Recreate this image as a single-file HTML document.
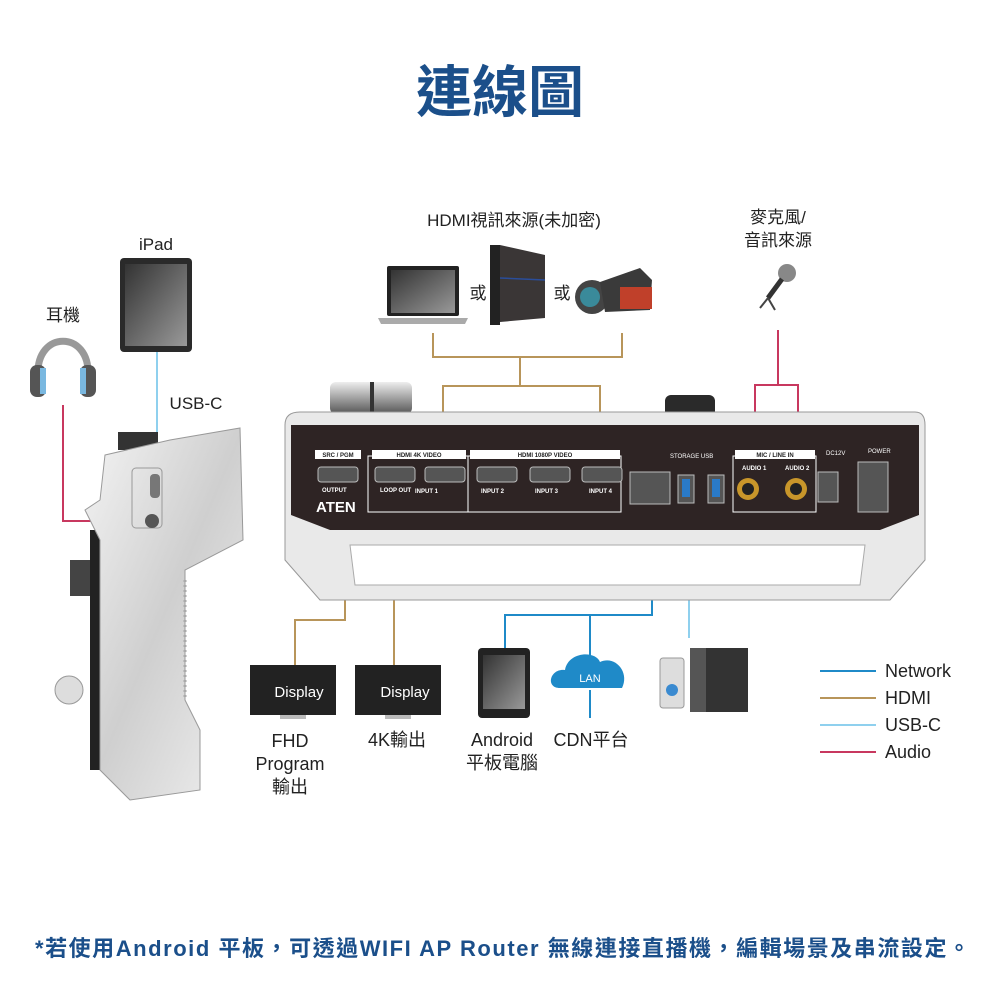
<!DOCTYPE html>
<html><head><meta charset="utf-8"><style>
html,body{margin:0;padding:0;background:#fff;}
svg{display:block;font-family:"Liberation Sans","Noto Sans CJK TC",sans-serif;}
</style></head><body>
<svg width="1000" height="1002" viewBox="0 0 1000 1002" xmlns="http://www.w3.org/2000/svg">
<defs>
<linearGradient id="scr" x1="0" y1="0" x2="1" y2="1"><stop offset="0" stop-color="#333"/><stop offset="1" stop-color="#999"/></linearGradient>
<linearGradient id="met" x1="0" y1="0" x2="1" y2="1"><stop offset="0" stop-color="#f4f4f4"/><stop offset="0.5" stop-color="#cfcfcf"/><stop offset="1" stop-color="#f0f0f0"/></linearGradient>
<linearGradient id="knob" x1="0" y1="0" x2="0" y2="1"><stop offset="0" stop-color="#eee"/><stop offset="1" stop-color="#555"/></linearGradient>
</defs>
<text x="500" y="112" text-anchor="middle" font-size="56" font-weight="bold" fill="#1b4f8a">連線圖</text>

<g font-size="17" fill="#222">
<text x="514" y="226" text-anchor="middle">HDMI視訊來源(未加密)</text>
<text x="778" y="223" text-anchor="middle">麥克風/</text>
<text x="778" y="246" text-anchor="middle">音訊來源</text>
<text x="156" y="250" text-anchor="middle">iPad</text>
<text x="63" y="321" text-anchor="middle">耳機</text>
<text x="196" y="409" text-anchor="middle">USB-C</text>
<text x="478" y="299" text-anchor="middle">或</text>
<text x="562" y="299" text-anchor="middle">或</text>
</g>

<rect x="387" y="266" width="72" height="50" rx="2" fill="#222"/>
<rect x="391" y="270" width="64" height="43" fill="url(#scr)"/>
<path d="M378 318 L468 318 L465 324 L381 324 Z" fill="#aaa"/>
<path d="M490 250 L500 245 L545 255 L545 318 L500 322 L490 325 Z" fill="#3a3636"/>
<path d="M500 278 L545 280" stroke="#2a4d9a" stroke-width="1.5"/>
<rect x="490" y="245" width="10" height="80" fill="#222"/>
<ellipse cx="592" cy="297" rx="17" ry="17" fill="#444"/>
<circle cx="590" cy="297" r="10" fill="#3a8a9a"/>
<path d="M600 282 L640 268 L652 280 L650 310 L605 312 Z" fill="#3a3a3a"/>
<rect x="620" y="287" width="32" height="22" fill="#c0402a"/>
<circle cx="787" cy="273" r="9" fill="#888"/>
<path d="M782 279 L768 298" stroke="#333" stroke-width="5"/>
<path d="M768 298 L760 308 M768 298 L775 310" stroke="#444" stroke-width="2"/>
<rect x="120" y="258" width="72" height="94" rx="4" fill="#2a2a2a"/>
<rect x="125" y="264" width="62" height="82" fill="url(#scr)"/>
<path d="M38 375 C36 330 90 330 88 375" fill="none" stroke="#999" stroke-width="7"/>
<rect x="30" y="365" width="16" height="32" rx="7" fill="#555"/>
<rect x="80" y="365" width="16" height="32" rx="7" fill="#555"/>
<rect x="40" y="368" width="6" height="26" fill="#7ab8e0"/>
<rect x="80" y="368" width="6" height="26" fill="#7ab8e0"/>

<g fill="none" stroke-width="2">
<path d="M433 333 V357 H622 V333 M520 357 V386 M443 458 V386 H600 V458" stroke="#b8955a"/>
<path d="M778 330 V385 M755 460 V385 H798 V460" stroke="#c8385f"/>
<path d="M63 405 V521 H135" stroke="#c8385f"/>
<path d="M157 352 V472" stroke="#8fd0ee"/>
<path d="M345 505 V620 H295 V665 M394 505 V665" stroke="#b8955a"/>
<path d="M652 518 V615 H505 V648 M590 615 V658 M590 690 V718" stroke="#1f8ac8"/>
<path d="M689 520 V638" stroke="#8fd0ee"/>
</g>

<rect x="330" y="382" width="82" height="32" rx="6" fill="url(#knob)"/>
<rect x="370" y="382" width="4" height="32" fill="#333"/>
<rect x="665" y="395" width="50" height="22" rx="6" fill="#2a2a2a"/>
<path d="M300 412 L915 412 Q925 412 925 425 L925 560 L890 600 L320 600 L285 560 L285 425 Q285 412 300 412 Z" fill="#e9e9e9" stroke="#999"/>
<path d="M291 425 L919 425 L919 515 L880 530 L330 530 L291 515 Z" fill="#2e2424"/>
<path d="M350 545 L865 545 L860 585 L355 585 Z" fill="#fff" stroke="#aaa"/>
<g fill="none" stroke="#fff" stroke-width="1">
<rect x="368" y="456" width="100" height="56"/>
<rect x="468" y="456" width="153" height="56"/>
<rect x="733" y="456" width="83" height="56"/>
</g>
<g font-size="6" fill="#fff" font-weight="bold">
<rect x="315" y="450" width="46" height="9" fill="#fff"/><text x="338" y="457" text-anchor="middle" fill="#222">SRC / PGM</text>
<rect x="372" y="450" width="94" height="9" fill="#fff"/><text x="419" y="457" text-anchor="middle" fill="#222">HDMI 4K VIDEO</text>
<rect x="470" y="450" width="150" height="9" fill="#fff"/><text x="545" y="457" text-anchor="middle" fill="#222">HDMI 1080P VIDEO</text>
<rect x="735" y="450" width="80" height="9" fill="#fff"/><text x="775" y="457" text-anchor="middle" fill="#222">MIC / LINE IN</text>
<text x="670" y="458" font-weight="normal">STORAGE  USB</text>
<text x="868" y="453" font-weight="normal">POWER</text>
<text x="826" y="455" font-weight="normal">DC12V</text>
<text x="415" y="493">INPUT 1</text><text x="481" y="493">INPUT 2</text><text x="535" y="493">INPUT 3</text><text x="589" y="493">INPUT 4</text>
<text x="322" y="492">OUTPUT</text><text x="380" y="492">LOOP OUT</text>
<text x="742" y="470">AUDIO 1</text><text x="785" y="470">AUDIO 2</text>
</g>
<text x="316" y="512" font-size="15" font-weight="bold" fill="#fff">ATEN</text>
<g fill="#555" stroke="#bbb">
<rect x="318" y="467" width="40" height="15" rx="3"/><rect x="375" y="467" width="40" height="15" rx="3"/><rect x="425" y="467" width="40" height="15" rx="3"/>
<rect x="477" y="467" width="40" height="15" rx="3"/><rect x="530" y="467" width="40" height="15" rx="3"/><rect x="582" y="467" width="40" height="15" rx="3"/>
<rect x="630" y="472" width="40" height="32"/><rect x="678" y="475" width="16" height="28"/><rect x="708" y="475" width="16" height="28"/>
<rect x="818" y="472" width="20" height="30"/><rect x="858" y="462" width="30" height="50"/>
</g>
<rect x="682" y="479" width="8" height="18" fill="#2a7ac8"/><rect x="712" y="479" width="8" height="18" fill="#2a7ac8"/>
<circle cx="748" cy="489" r="11" fill="#c8962a"/><circle cx="748" cy="489" r="6" fill="#222"/>
<circle cx="796" cy="489" r="11" fill="#c8962a"/><circle cx="796" cy="489" r="6" fill="#222"/>

<rect x="118" y="432" width="40" height="18" fill="#333"/>
<rect x="70" y="560" width="30" height="36" fill="#444"/>
<rect x="90" y="530" width="14" height="240" fill="#222"/>
<path d="M105 455 L170 440 L240 428 L243 540 L185 570 L185 700 L200 730 L200 790 L130 800 L100 770 L100 540 L85 510 L100 500 Z" fill="url(#met)" stroke="#999"/>
<rect x="132" y="468" width="30" height="60" rx="4" fill="none" stroke="#999"/>
<rect x="150" y="474" width="10" height="24" rx="4" fill="#777"/>
<circle cx="152" cy="521" r="7" fill="#555"/>
<path d="M185 580 V700" stroke="#aaa" stroke-width="3" stroke-dasharray="2 3"/>
<circle cx="69" cy="690" r="14" fill="#ddd" stroke="#999"/>

<rect x="250" y="665" width="86" height="50" fill="#222"/>
<text x="299" y="697" text-anchor="middle" font-size="15" fill="#fff">Display</text>
<rect x="280" y="715" width="26" height="4" fill="#bbb"/>
<rect x="355" y="665" width="86" height="50" fill="#222"/>
<text x="405" y="697" text-anchor="middle" font-size="15" fill="#fff">Display</text>
<rect x="385" y="715" width="26" height="4" fill="#bbb"/>
<rect x="478" y="648" width="52" height="70" rx="4" fill="#222"/>
<rect x="483" y="655" width="42" height="54" fill="url(#scr)"/>
<path d="M560 688 C545 688 550 668 565 670 C568 652 595 650 600 662 C615 655 630 672 622 688 Z" fill="#1f8ac8"/>
<text x="590" y="682" text-anchor="middle" font-size="11" fill="#fff">LAN</text>
<rect x="660" y="658" width="24" height="50" rx="3" fill="#ddd" stroke="#999"/>
<circle cx="672" cy="690" r="6" fill="#3a8ad0"/>
<rect x="690" y="648" width="58" height="64" fill="#333"/>
<rect x="690" y="648" width="16" height="64" fill="#555"/>

<g font-size="18" fill="#222" text-anchor="middle">
<text x="290" y="747">FHD</text><text x="290" y="770">Program</text><text x="290" y="793">輸出</text>
<text x="397" y="746">4K輸出</text>
<text x="502" y="746">Android</text><text x="502" y="769">平板電腦</text>
<text x="591" y="746">CDN平台</text>
</g>

<g stroke-width="2">
<path d="M820 671 H876" stroke="#1f8ac8"/><path d="M820 698 H876" stroke="#b8955a"/>
<path d="M820 725 H876" stroke="#8fd0ee"/><path d="M820 752 H876" stroke="#c8385f"/>
</g>
<g font-size="18" fill="#222">
<text x="885" y="677">Network</text><text x="885" y="704">HDMI</text><text x="885" y="731">USB-C</text><text x="885" y="758">Audio</text>
</g>

<text x="35" y="956" font-size="22" font-weight="bold" fill="#1b4f8a" textLength="935" lengthAdjust="spacing">*若使用Android 平板，可透過WIFI AP Router 無線連接直播機，編輯場景及串流設定。</text>
</svg>
</body></html>
